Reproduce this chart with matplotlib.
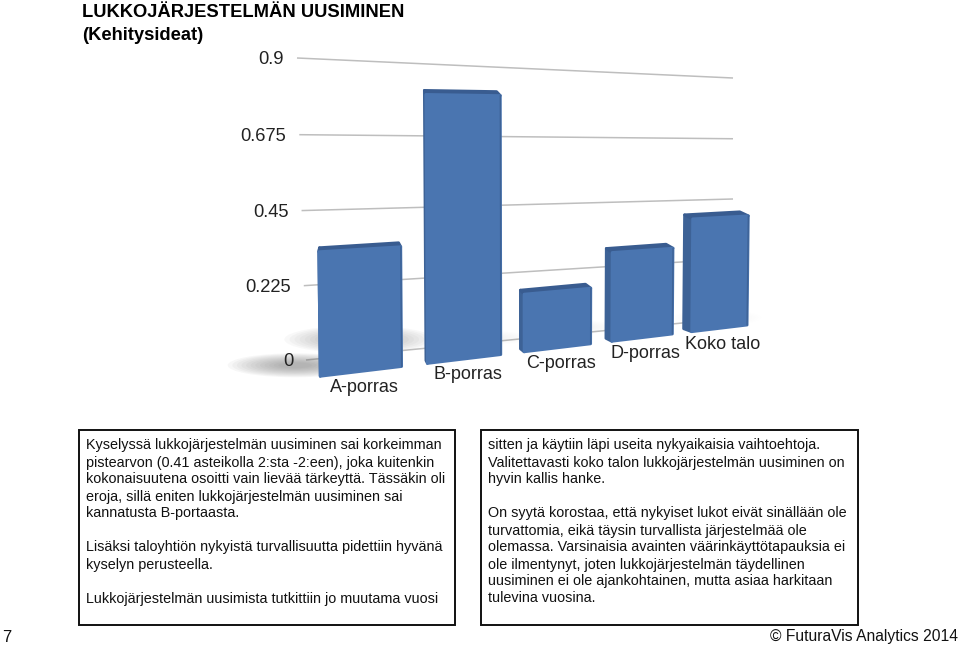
"""Perspective bar chart slide: lukkojärjestelmän uusiminen."""

import matplotlib

matplotlib.use("Agg")
import matplotlib.pyplot as plt
import numpy as np
from matplotlib.patches import Ellipse, Polygon, Rectangle

plt.rcParams["font.family"] = ["Liberation Sans", "DejaVu Sans"]

# Data
categories = ["A-porras", "B-porras", "C-porras", "D-porras", "Koko talo"]
values = [0.35, 0.79, 0.18, 0.29, 0.385]
ticks = [0, 0.225, 0.45, 0.675, 0.9]
tick_labels = ["0", "0.225", "0.45", "0.675", "0.9"]
title_lines = ["LUKKOJÄRJESTELMÄN UUSIMINEN", "(Kehitysideat)"]
left_text = [
    "Kyselyssä lukkojärjestelmän uusiminen sai korkeimman",
    "pistearvon (0.41 asteikolla 2:sta -2:een), joka kuitenkin",
    "kokonaisuutena osoitti vain lievää tärkeyttä. Tässäkin oli",
    "eroja, sillä eniten lukkojärjestelmän uusiminen sai",
    "kannatusta B-portaasta.",
    "",
    "Lisäksi taloyhtiön nykyistä turvallisuutta pidettiin hyvänä",
    "kyselyn perusteella.",
    "",
    "Lukkojärjestelmän uusimista tutkittiin jo muutama vuosi",
]
right_text = [
    "sitten ja käytiin läpi useita nykyaikaisia vaihtoehtoja.",
    "Valitettavasti koko talon lukkojärjestelmän uusiminen on",
    "hyvin kallis hanke.",
    "",
    "On syytä korostaa, että nykyiset lukot eivät sinällään ole",
    "turvattomia, eikä täysin turvallista järjestelmää ole",
    "olemassa. Varsinaisia avainten väärinkäyttötapauksia ei",
    "ole ilmentynyt, joten lukkojärjestelmän täydellinen",
    "uusiminen ei ole ajankohtainen, mutta asiaa harkitaan",
    "tulevina vuosina.",
]
page_number = "7"
footer = "© FuturaVis Analytics 2014"

# Plane corners in pixels, order (u, v): (0, 0), (1, 0), (0, 1), (1, 1)
GRID_CORNERS = [(306, 360), (733, 318), (297, 58), (733, 78)]
FRONT_CORNERS = [(306, 378), (756, 324), (302, 52), (759, 68)]
BAR_WIDTH = 0.75
FRONT_COLOR = "#4A75B0"
SIDE_COLOR = "#3D6296"
TOP_COLOR = "#395C90"
GRID_COLOR = "#BEBEBE"
TEXT_COLOR = "#111111"
# Floor shadow per bar: x shift, y shift, width, height, strength
SHADOWS = [
    (-25, -11, 135, 24, 1.0),
    (-68, -24, 150, 28, 0.85),
    (-30, -14, 70, 14, 0.1),
    (-30, -14, 70, 14, 0.1),
    (25, -14, 90, 16, 0.1),
]


def fit_homography(corners):
    """Solve the projective map from the unit square to the given corners."""
    unit = [(0, 0), (1, 0), (0, 1), (1, 1)]
    rows, rhs = [], []
    for (u, v), (x, y) in zip(unit, corners):
        rows.append([u, v, 1, 0, 0, 0, -u * x, -v * x])
        rows.append([0, 0, 0, u, v, 1, -u * y, -v * y])
        rhs += [x, y]
    return np.append(np.linalg.solve(np.array(rows, float), np.array(rhs, float)), 1).reshape(3, 3)


def project(matrix, u, value):
    """Map band position u and a chart value to pixel coordinates."""
    x, y, w = matrix @ np.array([u, value / ticks[-1], 1.0])
    return x / w, y / w


grid_plane = fit_homography(GRID_CORNERS)
front_plane = fit_homography(FRONT_CORNERS)

fig = plt.figure(figsize=(9.6, 6.47), dpi=100)
ax = fig.add_axes([0, 0, 1, 1])
ax.set_xlim(0, 960)
ax.set_ylim(647, 0)
ax.axis("off")

# Title
for i, line in enumerate(title_lines):
    ax.text(82, 17 + i * 22.5, line, fontsize=13.2, fontweight="bold", va="baseline", ha="left")

# Gridlines and value labels
for tick, label in zip(ticks, tick_labels):
    x0, y0 = project(grid_plane, 0, tick)
    x1, y1 = project(grid_plane, 1, tick)
    ax.plot([x0, x1], [y0, y1], color=GRID_COLOR, lw=1.1, solid_capstyle="butt", zorder=1)
    ax.text(x0 - 13, y0 + 2, label, fontsize=13.2, color="#222222", va="center", ha="right")

# Soft shadows on the floor
for i, (dx, dy, width, height, strength) in enumerate(SHADOWS):
    u = (i + 0.5 - BAR_WIDTH / 2) / len(values)
    bx, by = project(front_plane, u, 0)
    for scale in np.linspace(1.0, 0.25, 12):
        ax.add_patch(
            Ellipse((bx + dx, by + dy), width * scale, height * scale, color="#666666",
                    alpha=0.05 * strength, lw=0, zorder=1.5)
        )

# Bars
for i, (name, value) in enumerate(zip(categories, values)):
    u0 = (i + 0.5 - BAR_WIDTH / 2) / len(values)
    u1 = (i + 0.5 + BAR_WIDTH / 2) / len(values)
    fbl = project(front_plane, u0, 0)
    fbr = project(front_plane, u1, 0)
    ftl = project(front_plane, u0, value)
    ftr = project(front_plane, u1, value)
    # The back edges sit a few pixels up and toward the vanishing side
    shift_l = 1 - 11 * u0
    shift_r = -(2 + 8 * u0)
    bbl = (fbl[0] + shift_l, fbl[1] - 3)
    btl = (ftl[0] + shift_l, ftl[1] - 4)
    btr = (ftr[0] + shift_r, ftr[1] - 4)
    faces = [
        ([bbl, fbl, ftl, btl], SIDE_COLOR),
        ([ftl, ftr, btr, btl], TOP_COLOR),
        ([fbl, fbr, ftr, ftl], FRONT_COLOR),
    ]
    for face, color in faces:
        ax.add_patch(
            Polygon(face, closed=True, facecolor=color, edgecolor=color, lw=2.0,
                    joinstyle="round", zorder=2 + i * 0.1)
        )
    # Darker bevel along the right edge
    ax.plot([fbr[0], ftr[0]], [fbr[1], ftr[1]], color=SIDE_COLOR, lw=1.0,
            solid_capstyle="round", zorder=2.05 + i * 0.1)
    cx, cy = project(front_plane, (u0 + u1) / 2, 0)
    ax.text(cx + 3, cy + 16, name, fontsize=13, color="#222222", va="center", ha="center", zorder=5)

# Text boxes
for x0, x1 in [(78.5, 455), (481, 858)]:
    ax.add_patch(Rectangle((x0, 430), x1 - x0, 195, fill=False, edgecolor=TEXT_COLOR, lw=1.4, zorder=3))
for x0, lines in [(86, left_text), (488, right_text)]:
    for i, line in enumerate(lines):
        ax.text(x0, 449.5 + i * 17, line, fontsize=10.35, color=TEXT_COLOR, va="baseline", ha="left")

# Footer
ax.text(2, 641.5, page_number, fontsize=12, color=TEXT_COLOR, va="baseline", ha="left")
ax.text(958, 641.5, footer, fontsize=11.25, color=TEXT_COLOR, va="baseline", ha="right")

fig.savefig("out.png", dpi=100)
plt.close(fig)
